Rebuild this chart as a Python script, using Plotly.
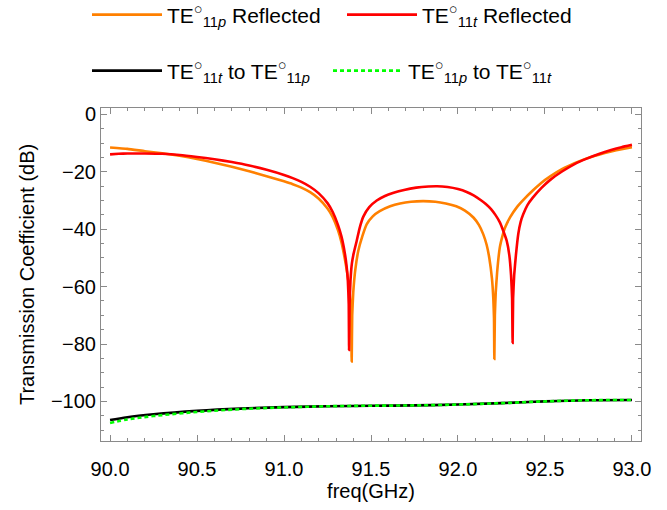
import plotly.graph_objects as go

# Frequency sweep (GHz) and reflection of the TE11p mode (dB)
freq_p_refl = [90.00, 90.10, 90.20, 90.30, 90.40, 90.50, 90.60, 90.70, 90.80, 90.90,
               91.00, 91.05, 91.10, 91.15, 91.20, 91.25, 91.28, 91.31, 91.33, 91.35,
               91.37, 91.38, 91.386, 91.389, 91.392, 91.398, 91.41, 91.427, 91.45, 91.475,
               91.51, 91.55, 91.61, 91.667, 91.73, 91.80, 91.87, 91.93, 91.99, 92.04,
               92.09, 92.12, 92.145, 92.165, 92.18, 92.195, 92.203, 92.207, 92.209, 92.212,
               92.217, 92.225, 92.24, 92.255, 92.27, 92.30, 92.34, 92.38, 92.43, 92.48,
               92.53, 92.60, 92.67, 92.74, 92.81, 92.88, 92.94, 93.00]
db_p_refl = [-11.5, -12.0, -12.8, -13.5, -14.4, -15.5, -16.8, -18.2, -19.8, -21.5,
             -23.3, -24.3, -25.5, -27.1, -29.4, -32.8, -35.8, -40.3, -44.5, -50.5,
             -58.0, -64.0, -70.0, -86.1, -70.0, -62.0, -54.0, -47.5, -42.5, -38.3,
             -35.5, -33.7, -32.0, -31.0, -30.4, -30.2, -30.4, -31.0, -32.0, -33.5,
             -36.0, -38.5, -41.7, -45.5, -50.0, -57.0, -64.0, -71.0, -85.2, -70.0,
             -62.0, -55.0, -46.5, -42.5, -39.5, -35.8, -32.2, -29.5, -26.5, -23.8,
             -21.6, -19.0, -17.0, -15.3, -14.0, -12.9, -12.1, -11.4]

# Reflection of the TE11t mode (dB)
freq_t_refl = [90.00, 90.05, 90.10, 90.20, 90.30, 90.40, 90.50, 90.60, 90.70, 90.80,
               90.90, 91.00, 91.05, 91.10, 91.15, 91.20, 91.25, 91.28, 91.31, 91.33,
               91.35, 91.36, 91.367, 91.372, 91.374, 91.377, 91.382, 91.39, 91.40, 91.418,
               91.435, 91.456, 91.49, 91.533, 91.58, 91.63, 91.69, 91.76, 91.83, 91.88,
               91.94, 92.00, 92.05, 92.09, 92.13, 92.16, 92.19, 92.215, 92.24, 92.26,
               92.28, 92.295, 92.305, 92.311, 92.314, 92.317, 92.323, 92.333, 92.347, 92.36,
               92.375, 92.40, 92.43, 92.48, 92.53, 92.60, 92.67, 92.74, 92.81, 92.88,
               92.94, 93.00]
db_t_refl = [-13.9, -13.7, -13.6, -13.6, -13.7, -14.1, -14.8, -15.6, -16.6, -17.8,
             -19.3, -21.1, -22.2, -23.5, -25.2, -27.5, -30.9, -34.0, -38.5, -42.5,
             -48.5, -53.0, -58.0, -66.0, -82.1, -66.0, -58.0, -52.0, -48.5, -44.0,
             -39.5, -35.6, -32.3, -30.0, -28.4, -27.3, -26.3, -25.5, -25.1, -25.0,
             -25.3, -26.0, -27.0, -28.2, -29.8, -31.2, -33.0, -35.0, -37.5, -40.5,
             -44.0, -49.0, -56.0, -64.0, -79.6, -64.0, -56.0, -49.0, -41.5, -37.5,
             -34.8, -31.5, -29.0, -25.6, -22.8, -19.8, -17.3, -15.4, -13.8, -12.4,
             -11.4, -10.6]

# Mode conversion between TE11t and TE11p (dB)
freq_conv = [90.00, 90.10, 90.25, 90.50, 90.75, 91.00, 91.25, 91.50, 91.75,
             92.00, 92.25, 92.50, 92.75, 93.00]
db_t_to_p = [-106.5, -105.5, -104.5, -103.3, -102.5, -102.0, -101.7, -101.5, -101.4,
             -101.1, -100.6, -100.0, -99.6, -99.5]
db_p_to_t = [-107.5, -106.3, -105.1, -103.7, -102.7, -102.1, -101.7, -101.5, -101.4,
             -101.1, -100.6, -100.0, -99.6, -99.5]

label_p_refl = "TE<sup>○</sup><sub>11<i>p</i></sub> Reflected"
label_t_refl = "TE<sup>○</sup><sub>11<i>t</i></sub> Reflected"
label_t_to_p = "TE<sup>○</sup><sub>11<i>t</i></sub> to TE<sup>○</sup><sub>11<i>p</i></sub>"
label_p_to_t = "TE<sup>○</sup><sub>11<i>p</i></sub> to TE<sup>○</sup><sub>11<i>t</i></sub>"

FONT = "Liberation Sans, Arial, sans-serif"
FRAME = "#8a8a8a"

fig = go.Figure()
fig.add_trace(go.Scatter(x=freq_p_refl, y=db_p_refl, mode="lines", name=label_p_refl,
                         line=dict(color="#FF8000", width=2.6, shape="spline", smoothing=0.4),
                         legend="legend"))
fig.add_trace(go.Scatter(x=freq_t_refl, y=db_t_refl, mode="lines", name=label_t_refl,
                         line=dict(color="#FF0000", width=2.6, shape="spline", smoothing=0.4),
                         legend="legend"))
fig.add_trace(go.Scatter(x=freq_conv, y=db_t_to_p, mode="lines", name=label_t_to_p,
                         line=dict(color="#000000", width=2.6, shape="spline"),
                         legend="legend2"))
fig.add_trace(go.Scatter(x=freq_conv, y=db_p_to_t, mode="lines", name=label_p_to_t,
                         line=dict(color="#00FF00", width=2.6, dash="4px,3px", shape="spline"),
                         legend="legend2"))

axis_common = dict(
    ticks="inside", ticklen=6, tickwidth=1, tickcolor=FRAME,
    showline=True, linecolor=FRAME, linewidth=1, mirror="allticks",
    showgrid=False, zeroline=False,
    tickfont=dict(family=FONT, size=20, color="black"),
    title_font=dict(family=FONT, size=20, color="black"),
)

fig.update_xaxes(
    range=[89.948, 93.052], tick0=90, dtick=0.5, tickformat=".1f",
    minor=dict(ticks="inside", dtick=0.1, ticklen=3, tickcolor=FRAME, showgrid=False),
    ticklabelstandoff=10,
    title_text="freq(GHz)", title_standoff=4, **axis_common,
)
fig.update_yaxes(
    range=[-113.8, 2.3], tick0=0, dtick=20,
    minor=dict(ticks="inside", dtick=5, ticklen=3, tickcolor=FRAME, showgrid=False),
    title_text="Transmission Coefficient (dB)", title_standoff=10, **axis_common,
)

legend_common = dict(
    orientation="h", xref="container", yref="container",
    xanchor="left", yanchor="middle", bgcolor="rgba(0,0,0,0)",
    font=dict(family=FONT, size=21, color="black"),
    entrywidthmode="pixels", traceorder="normal", itemwidth=70,
)

fig.update_layout(
    width=667, height=510,
    margin=dict(l=101, r=26, t=106, b=69),
    paper_bgcolor="white", plot_bgcolor="white",
    font=dict(family=FONT, size=20, color="black"),
    showlegend=True,
    legend=dict(x=87 / 667, y=1 - 15 / 510, entrywidth=170, **legend_common),
    legend2=dict(x=87 / 667, y=1 - 71 / 510, entrywidth=156, **legend_common),
)

fig.write_html("out.html")
